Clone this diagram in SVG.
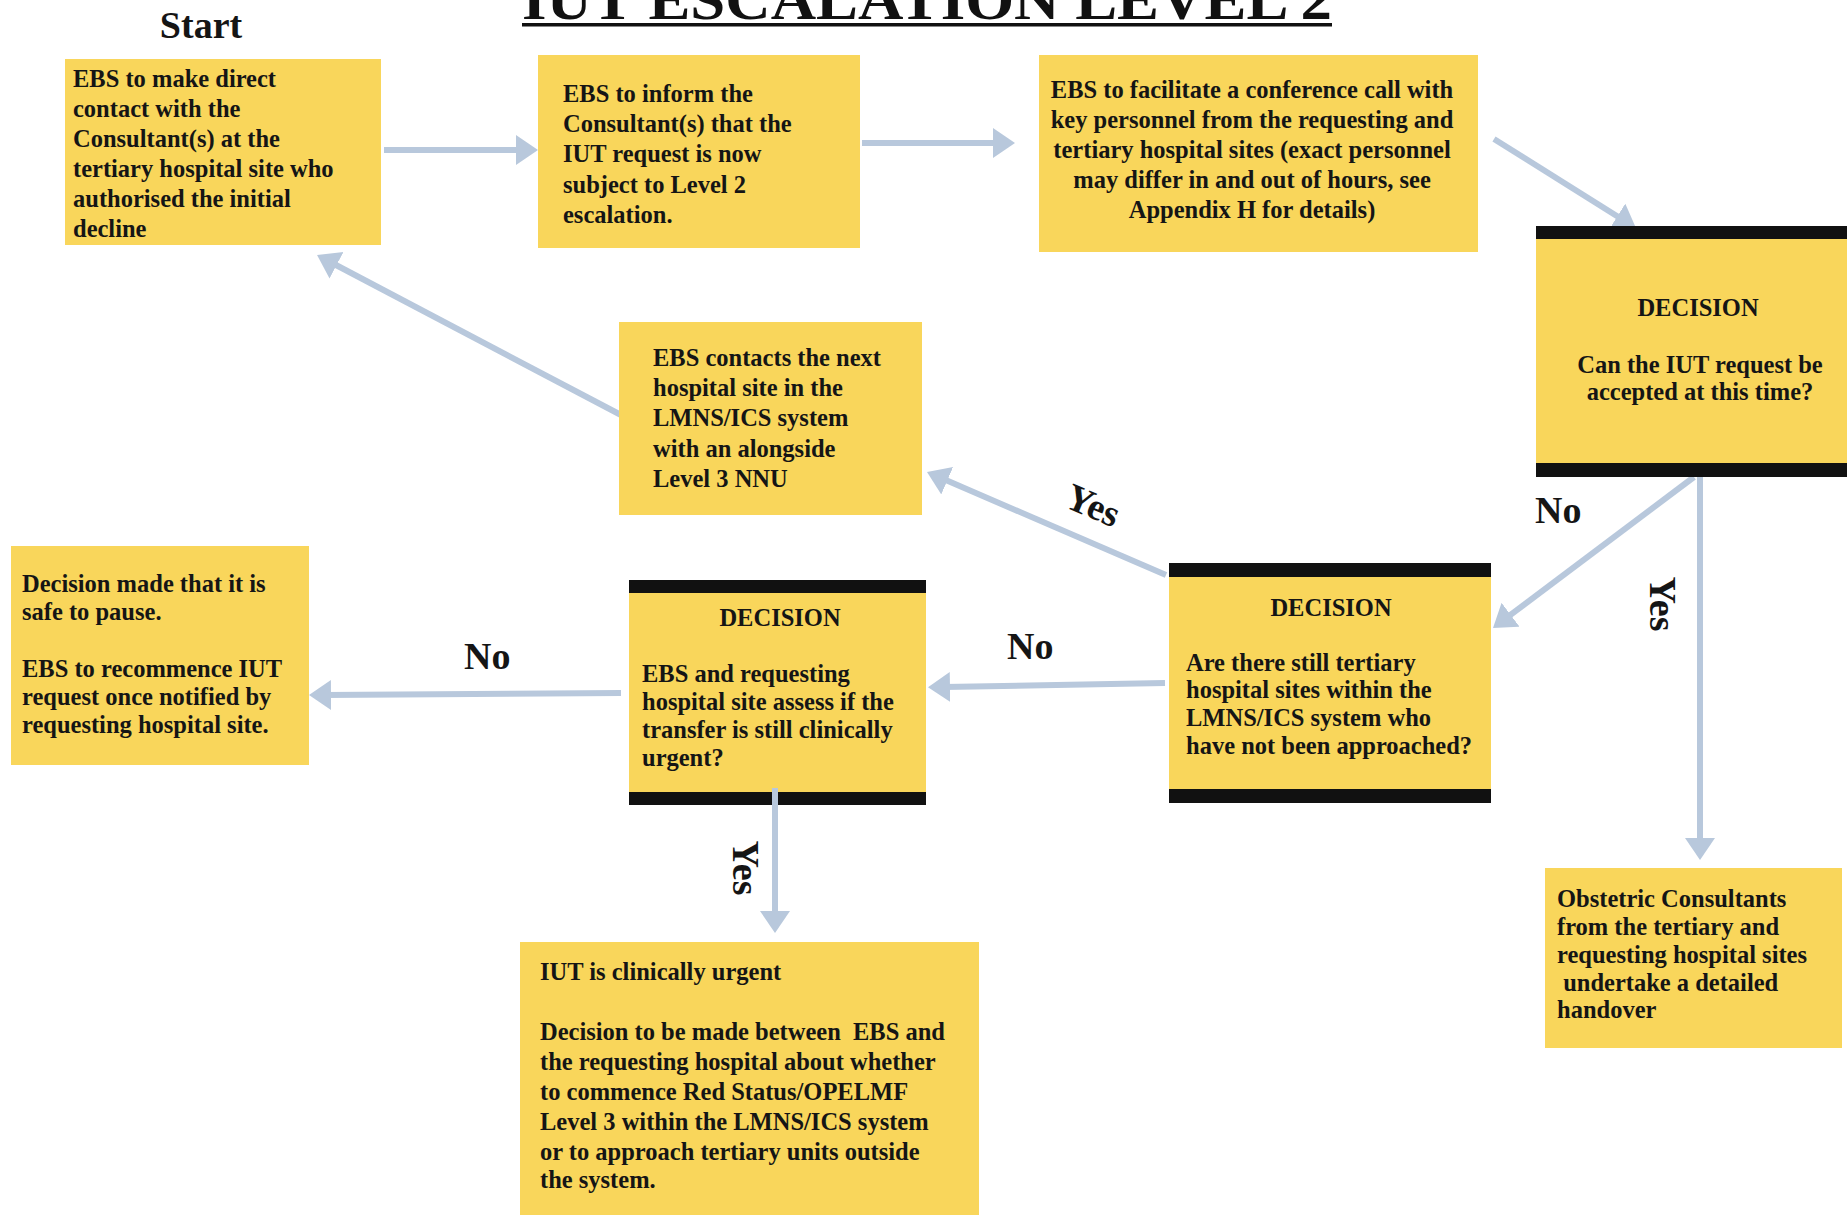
<svg xmlns="http://www.w3.org/2000/svg" width="1847" height="1215" viewBox="0 0 1847 1215">
<style>
.box{fill:#f9d65b}
.bar{fill:#111}
.t{font-family:"Liberation Serif","Times New Roman",serif;font-weight:bold;font-size:24.5px;fill:#151515}
.c{text-anchor:middle}
.lbl{font-family:"Liberation Serif","Times New Roman",serif;font-weight:bold;font-size:38px;fill:#151515}
.conn{stroke:#b8c8dc;stroke-width:6;fill:none}
</style>
<defs>
<marker id="ah" markerUnits="userSpaceOnUse" markerWidth="24" markerHeight="32" refX="6" refY="15" orient="auto" viewBox="0 0 24 32">
<path d="M0,0 L22,15 L0,30 Z" fill="#b8c8dc"/>
</marker>
</defs>
<rect width="1847" height="1215" fill="#ffffff"/>

<g id="title">
<text x="522" y="19" font-family="Liberation Serif, Times New Roman, serif" font-weight="bold" font-size="58" fill="#111" textLength="810" lengthAdjust="spacingAndGlyphs">IUT ESCALATION LEVEL 2</text>
<rect x="522" y="23" width="810" height="3.5" fill="#111"/>
</g>
<g id="start-label">
<text x="201" y="38" class="t c" style="font-size:38px">Start</text>
</g>

<g id="connectors">
<line class="conn" x1="384" y1="150" x2="522" y2="150" marker-end="url(#ah)"/>
<line class="conn" x1="862" y1="143" x2="999" y2="143" marker-end="url(#ah)"/>
<line class="conn" x1="1494" y1="139" x2="1622.4" y2="219.5" marker-end="url(#ah)"/>
<line class="conn" x1="1694" y1="477" x2="1505.8" y2="618.4" marker-end="url(#ah)"/>
<line class="conn" x1="1700" y1="477" x2="1700" y2="844" marker-end="url(#ah)"/>
<line class="conn" x1="1166" y1="575" x2="941.7" y2="478.3" marker-end="url(#ah)"/>
<line class="conn" x1="621" y1="415" x2="331.2" y2="262.5" marker-end="url(#ah)"/>
<line class="conn" x1="1165" y1="683" x2="944" y2="687" marker-end="url(#ah)"/>
<line class="conn" x1="621" y1="693" x2="325" y2="695" marker-end="url(#ah)"/>
</g>

<g id="n-start">
<rect class="box" x="65" y="59" width="316" height="186"/>
<text class="t" x="73" y="87">EBS to make direct</text>
<text class="t" x="73" y="117">contact with the</text>
<text class="t" x="73" y="147">Consultant(s) at the</text>
<text class="t" x="73" y="177">tertiary hospital site who</text>
<text class="t" x="73" y="207">authorised the initial</text>
<text class="t" x="73" y="237">decline</text>
</g>

<g id="n-inform">
<rect class="box" x="538" y="55" width="322" height="193"/>
<text class="t" x="563" y="102">EBS to inform the</text>
<text class="t" x="563" y="132">Consultant(s) that the</text>
<text class="t" x="563" y="162">IUT request is now</text>
<text class="t" x="563" y="193">subject to Level 2</text>
<text class="t" x="563" y="223">escalation.</text>
</g>

<g id="n-conference">
<rect class="box" x="1039" y="55" width="439" height="197"/>
<text class="t c" x="1252" y="98">EBS to facilitate a conference call with</text>
<text class="t c" x="1252" y="128">key personnel from the requesting and</text>
<text class="t c" x="1252" y="158">tertiary hospital sites (exact personnel</text>
<text class="t c" x="1252" y="188">may differ in and out of hours, see</text>
<text class="t c" x="1252" y="218">Appendix H for details)</text>
</g>

<g id="n-decision1">
<rect class="box" x="1536" y="226" width="311" height="251"/>
<rect class="bar" x="1536" y="226" width="311" height="13"/>
<rect class="bar" x="1536" y="463" width="311" height="14"/>
<text class="t c" x="1698" y="316">DECISION</text>
<text class="t c" x="1700" y="373">Can the IUT request be</text>
<text class="t c" x="1700" y="400">accepted at this time?</text>
</g>

<g id="n-next-site">
<rect class="box" x="619" y="322" width="303" height="193"/>
<text class="t" x="653" y="366">EBS contacts the next</text>
<text class="t" x="653" y="396">hospital site in the</text>
<text class="t" x="653" y="426">LMNS/ICS system</text>
<text class="t" x="653" y="457">with an alongside</text>
<text class="t" x="653" y="487">Level 3 NNU</text>
</g>

<g id="n-decision2">
<rect class="box" x="1169" y="563" width="322" height="240"/>
<rect class="bar" x="1169" y="563" width="322" height="14"/>
<rect class="bar" x="1169" y="789" width="322" height="14"/>
<text class="t c" x="1331" y="616">DECISION</text>
<text class="t" x="1186" y="671">Are there still tertiary</text>
<text class="t" x="1186" y="698">hospital sites within the</text>
<text class="t" x="1186" y="726">LMNS/ICS system who</text>
<text class="t" x="1186" y="754">have not been approached?</text>
</g>

<g id="n-decision3">
<rect class="box" x="629" y="580" width="297" height="225"/>
<rect class="bar" x="629" y="580" width="297" height="13"/>
<rect class="bar" x="629" y="792" width="297" height="13"/>
<text class="t c" x="780" y="626">DECISION</text>
<text class="t" x="642" y="682">EBS and requesting</text>
<text class="t" x="642" y="710">hospital site assess if the</text>
<text class="t" x="642" y="738">transfer is still clinically</text>
<text class="t" x="642" y="766">urgent?</text>
</g>

<g id="n-pause">
<rect class="box" x="11" y="546" width="298" height="219"/>
<text class="t" x="22" y="592">Decision made that it is</text>
<text class="t" x="22" y="620">safe to pause.</text>
<text class="t" x="22" y="677">EBS to recommence IUT</text>
<text class="t" x="22" y="705">request once notified by</text>
<text class="t" x="22" y="733">requesting hospital site.</text>
</g>

<g id="n-urgent">
<rect class="box" x="520" y="942" width="459" height="273"/>
<text class="t" x="540" y="980">IUT is clinically urgent</text>
<text class="t" x="540" y="1040">Decision to be made between&#160; EBS and</text>
<text class="t" x="540" y="1070">the requesting hospital about whether</text>
<text class="t" x="540" y="1100">to commence Red Status/OPELMF</text>
<text class="t" x="540" y="1130">Level 3 within the LMNS/ICS system</text>
<text class="t" x="540" y="1160">or to approach tertiary units outside</text>
<text class="t" x="540" y="1188">the system.</text>
</g>

<g id="n-handover">
<rect class="box" x="1545" y="868" width="297" height="180"/>
<text class="t" x="1557" y="907">Obstetric Consultants</text>
<text class="t" x="1557" y="935">from the tertiary and</text>
<text class="t" x="1557" y="963">requesting hospital sites</text>
<text class="t" x="1557" y="991">&#160;undertake a detailed</text>
<text class="t" x="1557" y="1018">handover</text>
</g>

<g id="connectors-over">
<line class="conn" x1="775" y1="788" x2="775" y2="917" marker-end="url(#ah)"/>
</g>

<g id="labels">
<text class="lbl" text-anchor="middle" transform="translate(1088,517) rotate(23)">Yes</text>
<text class="lbl" x="1535" y="523">No</text>
<text class="lbl" text-anchor="middle" transform="translate(1650,604) rotate(90)">Yes</text>
<text class="lbl" x="1007" y="659">No</text>
<text class="lbl" x="464" y="669">No</text>
<text class="lbl" text-anchor="middle" transform="translate(733,868) rotate(90)">Yes</text>
</g>
</svg>
